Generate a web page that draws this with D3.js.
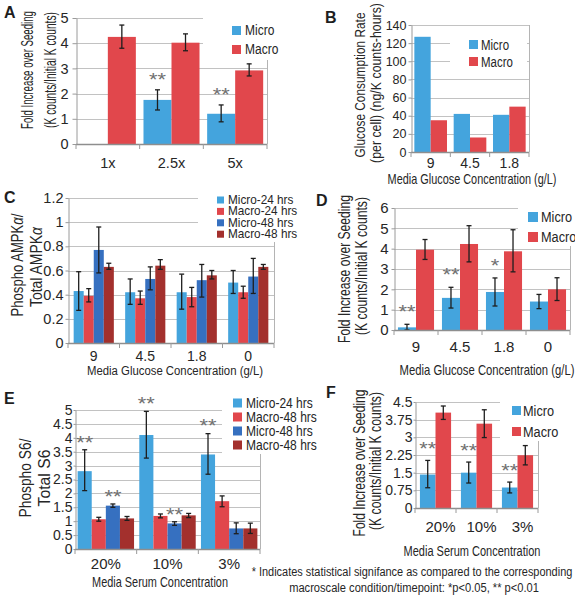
<!DOCTYPE html>
<html><head><meta charset="utf-8">
<script src="https://cdn.jsdelivr.net/npm/d3@7"></script>
<style>
body{margin:0;background:#fff;}
svg text{font-family:"Liberation Sans",Arial,sans-serif;}
</style>
</head><body>
<svg id="fig" width="575" height="600"></svg>
<script>
// ---------- Panel A ----------
const catsA = ["1x", "2.5x", "5x"];
const microA = [null, 1.75, 1.2];
const microA_lo = [null, 1.35, 0.88];
const microA_hi = [null, 2.15, 1.55];
const sigA = ["", "**", "**"];
const macroA = [4.25, 4.02, 2.92];
const macroA_lo = [3.8, 3.7, 2.7];
const macroA_hi = [4.72, 4.37, 3.18];
const ticksA = [0, 1, 2, 3, 4, 5];

// ---------- Panel B ----------
const catsB = ["9", "4.5", "1.8"];
const microB = [127, 42, 41];
const macroB = [35, 16, 50];
const ticksB = [0, 20, 40, 60, 80, 100, 120, 140];

// ---------- Panel C ----------
const catsC = ["9", "4.5", "1.8", "0"];
const micro24C = [0.43, 0.42, 0.42, 0.50];
const micro24C_lo = [0.27, 0.32, 0.28, 0.41];
const micro24C_hi = [0.59, 0.53, 0.57, 0.60];
const macro24C = [0.39, 0.37, 0.38, 0.42];
const macro24C_lo = [0.34, 0.32, 0.30, 0.37];
const macro24C_hi = [0.45, 0.43, 0.46, 0.47];
const micro48C = [0.77, 0.53, 0.52, 0.55];
const micro48C_lo = [0.58, 0.44, 0.38, 0.41];
const micro48C_hi = [0.96, 0.63, 0.65, 0.70];
const macro48C = [0.63, 0.64, 0.56, 0.63];
const macro48C_lo = [0.61, 0.61, 0.53, 0.61];
const macro48C_hi = [0.66, 0.69, 0.60, 0.65];
const ticksC = [0, 0.2, 0.4, 0.6, 0.8, 1, 1.2];

// ---------- Panel D ----------
const catsD = ["9", "4.5", "1.8", "0"];
const microD = [0.13, 1.58, 1.87, 1.4];
const microD_lo = [0.0, 1.08, 1.18, 1.05];
const microD_hi = [0.28, 2.1, 2.56, 1.75];
const sigD = ["**", "**", "*", ""];
const macroD = [3.95, 4.23, 3.87, 2.0];
const macroD_lo = [3.47, 3.35, 2.86, 1.45];
const macroD_hi = [4.45, 5.13, 4.93, 2.57];
const ticksD = [0, 1, 2, 3, 4, 5, 6];

// ---------- Panel E ----------
const catsE = ["20%", "10%", "3%"];
const micro24E = [2.8, 4.1, 3.4];
const micro24E_lo = [2.1, 3.27, 2.69];
const micro24E_hi = [3.57, 4.95, 4.15];
const sigE24 = ["**", "**", "**"];
const macro48aE = [1.07, 1.19, 1.72];
const macro48aE_lo = [1.0, 1.12, 1.52];
const macro48aE_hi = [1.14, 1.26, 1.91];
const micro48E = [1.56, 0.92, 0.74];
const micro48E_lo = [1.5, 0.85, 0.55];
const micro48E_hi = [1.62, 0.98, 0.94];
const sigE48 = ["**", "**", ""];
const macro48E = [1.1, 1.21, 0.74];
const macro48E_lo = [1.03, 1.13, 0.56];
const macro48E_hi = [1.17, 1.28, 0.93];
const ticksE = [0, 0.5, 1, 1.5, 2, 2.5, 3, 3.5, 4, 4.5, 5];

// ---------- Panel F ----------
const catsF = ["20%", "10%", "3%"];
const microF = [1.42, 1.5, 0.87];
const microF_lo = [0.86, 1.06, 0.64];
const microF_hi = [2.02, 1.95, 1.1];
const sigF = ["**", "**", "**"];
const macroF = [4.05, 3.58, 2.24];
const macroF_lo = [3.76, 2.99, 1.83];
const macroF_hi = [4.33, 4.17, 2.65];
const ticksF = [0, 0.75, 1.5, 2.25, 3, 3.75, 4.5];

// ---------- drawing ----------
const COL = {micro: "#44a4dd", macro: "#e1474c", micro48: "#3670c0", macro48: "#a3302d"};
const TXT = "#262626";
const svg = d3.select("#fig");
svg.append("rect").attr("width", 575).attr("height", 600).attr("fill", "#fff");

// text placed in its own group; horizontal compression done with a scale transform
function addText(g, x, y, s, o = {}) {
  const gg = g.append("g");
  const t = gg.append("text").attr("x", 0).attr("y", 0)
    .attr("font-size", o.size || 14).attr("text-anchor", o.anchor || "start")
    .attr("fill", o.fill || TXT);
  if (Array.isArray(s)) {
    s.forEach(p => { const ts = t.append("tspan").text(p.t); if (p.it) ts.attr("font-style", "italic"); });
  } else t.text(s);
  if (o.weight) t.attr("font-weight", o.weight);
  let k = 1;
  const Ln = t.node().getComputedTextLength();
  if (o.len) k = o.len / Ln;
  else if (o.k) k = o.k;
  gg.attr("transform", `translate(${x},${y})${o.rot ? " rotate(" + o.rot + ")" : ""} scale(${k},1)`);
  return t;
}
function vText(g, x, y, s, o = {}) {
  return addText(g, x, y, s, Object.assign({anchor: "middle", rot: -90}, o));
}

function panel(p) {
  const g = svg.append("g");
  const y = d3.scaleLinear().domain([0, p.max]).range([p.y1, p.y0]);
  const x = d3.scaleBand().domain(p.cats).range([p.x0, p.x1])
    .paddingInner(p.pad).paddingOuter(p.pad / 2);
  const xs = d3.scaleBand().domain(d3.range(p.series.length)).range([0, x.bandwidth()]);

  // gridlines
  g.append("g").selectAll("line").data(p.ticks.filter(t => t > 0)).join("line")
    .attr("x1", p.x0).attr("x2", p.x1)
    .attr("y1", d => Math.round(y(d)) + 0.5).attr("y2", d => Math.round(y(d)) + 0.5)
    .attr("stroke", "#c2c2c2").attr("stroke-width", 1);
  // right border
  g.append("line").attr("x1", p.x1 + 0.5).attr("x2", p.x1 + 0.5).attr("y1", y(p.max)).attr("y2", p.y1)
    .attr("stroke", "#b4b4b4");
  // legend box (covers the grid)
  const L = p.leg;
  g.append("rect").attr("x", L.bx).attr("y", L.by).attr("width", L.bw).attr("height", L.bh).attr("fill", "#fff");

  // bars
  p.series.forEach((s, si) => {
    const data = p.cats.map((c, i) => ({
      c, v: s.values[i],
      lo: s.lo ? s.lo[i] : null, hi: s.hi ? s.hi[i] : null,
      sig: s.sig ? s.sig[i] : ""
    })).filter(d => d.v != null);
    const gs = g.append("g");
    gs.selectAll("rect").data(data).join("rect")
      .attr("x", d => x(d.c) + xs(si)).attr("width", xs.bandwidth())
      .attr("y", d => y(d.v)).attr("height", d => y(0) - y(d.v))
      .attr("fill", s.color);
    const eb = data.filter(d => d.lo != null);
    const cx = d => x(d.c) + xs(si) + xs.bandwidth() / 2;
    gs.selectAll("line.v").data(eb).join("line").attr("class", "v")
      .attr("x1", cx).attr("x2", cx).attr("y1", d => y(d.lo)).attr("y2", d => y(d.hi))
      .attr("stroke", "#1e1e1e").attr("stroke-width", 1.3);
    ["lo", "hi"].forEach(k => {
      gs.selectAll("line.c" + k).data(eb).join("line").attr("class", "c" + k)
        .attr("x1", d => cx(d) - 2.5).attr("x2", d => cx(d) + 2.5)
        .attr("y1", d => y(d[k])).attr("y2", d => y(d[k]))
        .attr("stroke", "#1e1e1e").attr("stroke-width", 1.3);
    });
    data.filter(d => d.sig).forEach(d => {
      const ctr = y(d.hi) - p.starOff;
      addText(gs, cx(d), ctr + 0.57 * 19, d.sig,
        {size: 19, anchor: "middle", fill: "#707070", len: d.sig.length * 8.5});
    });
  });

  // y axis
  const ya = g.append("g").attr("transform", `translate(${p.x0 + 0.5},0)`)
    .call(d3.axisLeft(y).tickValues(p.ticks).tickSize(p.tickSize).tickSizeOuter(0)
      .tickPadding(p.tickPad).tickFormat(d => String(d)));
  ya.select(".domain").attr("stroke", "#9a9a9a");
  ya.selectAll(".tick line").attr("stroke", "#9a9a9a");
  ya.selectAll(".tick text").attr("font-size", p.ySize).attr("fill", TXT);

  // x axis
  g.append("line").attr("x1", p.x0).attr("x2", p.x1).attr("y1", p.y1 + 0.5).attr("y2", p.y1 + 0.5)
    .attr("stroke", "#8e8e8e").attr("stroke-width", 1.3);
  g.append("g").selectAll("line").data(d3.range(p.cats.length + 1)).join("line")
    .attr("x1", i => p.x0 + i * x.step()).attr("x2", i => p.x0 + i * x.step())
    .attr("y1", p.y1).attr("y2", p.y1 + 5).attr("stroke", "#9a9a9a");
  p.cats.forEach(c => addText(g, x(c) + x.bandwidth() / 2 + (p.xLabDx || 0), p.xLabY, c,
    {size: p.xSize, anchor: "middle"}));

  // legend
  p.series.forEach((s, i) => {
    g.append("rect").attr("x", L.sx).attr("y", L.sy + i * L.dy).attr("width", L.s).attr("height", L.s)
      .attr("fill", s.color);
    addText(g, L.tx, L.sy + i * L.dy + L.tdy, s.name, {size: L.size, k: L.k});
  });

  // titles
  addText(g, p.letter[1], p.letter[2], p.letter[0], {size: 16, weight: "bold", fill: "#1e1e1e"});
  p.ytitle.forEach(t => vText(g, t.x, t.y, t.s, {size: t.size || 16, len: t.len}));
  if (p.xtitle) addText(g, p.xtitle.x, p.xtitle.y, p.xtitle.s, {size: p.xtitle.size || 14, anchor: "middle", len: p.xtitle.len});
}

// Panel A
panel({
  x0: 76, x1: 267, y0: 18, y1: 144, max: 5, ticks: ticksA, cats: catsA, pad: 0.12,
  series: [
    {name: "Micro", color: COL.micro, values: microA, lo: microA_lo, hi: microA_hi, sig: sigA},
    {name: "Macro", color: COL.macro, values: macroA, lo: macroA_lo, hi: macroA_hi}
  ],
  starOff: 15, tickSize: 4, tickPad: 4, ySize: 14.5, xSize: 14.5, xLabY: 168,
  leg: {bx: 203, by: 12, bw: 80, bh: 48, sx: 232, sy: 26, dy: 19, s: 9, tx: 245, tdy: 8.5, size: 15, k: 0.8},
  letter: ["A", 4, 18],
  ytitle: [
    {x: 33, y: 70, s: "Fold Increase over Seeding", len: 118},
    {x: 56, y: 70, s: "(K counts/Initial K counts)", len: 116}
  ]
});

// Panel B
panel({
  x0: 411, x1: 529, y0: 25, y1: 152, max: 140, ticks: ticksB, cats: catsB, pad: 0.17,
  series: [
    {name: "Micro", color: COL.micro, values: microB},
    {name: "Macro", color: COL.macro, values: macroB}
  ],
  starOff: 0, tickSize: 3, tickPad: 2, ySize: 12.5, xSize: 14, xLabY: 168,
  leg: {bx: 450, by: 33, bw: 77, bh: 40, sx: 469, sy: 40, dy: 17, s: 9, tx: 481, tdy: 9.5, size: 14, k: 0.82},
  letter: ["B", 325, 23],
  ytitle: [
    {x: 365, y: 85, s: "Glucose Consumption Rate", len: 145, size: 15},
    {x: 381, y: 83, s: "(per cell)  (ng/K counts-hours)", len: 160, size: 15}
  ],
  xtitle: {x: 472, y: 184, s: "Media Glucose Concentration (g/L)", len: 169}
});

// Panel C
panel({
  x0: 68, x1: 274, y0: 198, y1: 343, max: 1.2, ticks: ticksC, cats: catsC, pad: 0.22,
  series: [
    {name: "Micro-24 hrs", color: COL.micro, values: micro24C, lo: micro24C_lo, hi: micro24C_hi},
    {name: "Macro-24 hrs", color: COL.macro, values: macro24C, lo: macro24C_lo, hi: macro24C_hi},
    {name: "Micro-48 hrs", color: COL.micro48, values: micro48C, lo: micro48C_lo, hi: micro48C_hi},
    {name: "Macro-48 hrs", color: COL.macro48, values: macro48C, lo: macro48C_lo, hi: macro48C_hi}
  ],
  starOff: 0, tickSize: 3, tickPad: 2, ySize: 14.5, xSize: 14, xLabY: 361,
  leg: {bx: 198, by: 190, bw: 100, bh: 52, sx: 217, sy: 196.5, dy: 11.4, s: 7, tx: 228, tdy: 7.5, size: 12, k: 0.98},
  letter: ["C", 4, 203],
  ytitle: [
    {x: 23, y: 265, s: [{t: "Phospho AMPK"}, {t: "α", it: true}, {t: "/"}], len: 103},
    {x: 42, y: 267, s: [{t: "Total AMPK"}, {t: "α", it: true}], len: 80}
  ],
  xtitle: {x: 175, y: 375, s: "Media Glucose Concentration (g/L)", len: 176, size: 13.5}
});

// Panel D
panel({
  x0: 394, x1: 570, y0: 208, y1: 330, max: 6, ticks: ticksD, cats: catsD, pad: 0.18,
  series: [
    {name: "Micro", color: COL.micro, values: microD, lo: microD_lo, hi: microD_hi, sig: sigD},
    {name: "Macro", color: COL.macro, values: macroD, lo: macroD_lo, hi: macroD_hi}
  ],
  starOff: 17, tickSize: 3, tickPad: 3, ySize: 15, xSize: 15, xLabY: 352,
  leg: {bx: 518, by: 203, bw: 57, bh: 43, sx: 528, sy: 212, dy: 20, s: 10, tx: 541, tdy: 10, size: 15, k: 0.85},
  letter: ["D", 316, 206],
  ytitle: [
    {x: 350, y: 269, s: "Fold Increase over Seeding", len: 148},
    {x: 367, y: 266, s: "(K counts/Initial K counts)", len: 138}
  ],
  xtitle: {x: 487, y: 375, s: "Media Glucose Concentration (g/L)", len: 175}
});

// Panel E
panel({
  x0: 75, x1: 260, y0: 410, y1: 549, max: 5, ticks: ticksE, cats: catsE, pad: 0.085,
  series: [
    {name: "Micro-24 hrs", color: COL.micro, values: micro24E, lo: micro24E_lo, hi: micro24E_hi, sig: sigE24},
    {name: "Macro-48 hrs", color: COL.macro, values: macro48aE, lo: macro48aE_lo, hi: macro48aE_hi},
    {name: "Micro-48 hrs", color: COL.micro48, values: micro48E, lo: micro48E_lo, hi: micro48E_hi, sig: sigE48},
    {name: "Macro-48 hrs", color: COL.macro48, values: macro48E, lo: macro48E_lo, hi: macro48E_hi}
  ],
  starOff: 12, tickSize: 2, tickPad: 1, ySize: 14, xSize: 15, xLabY: 569,
  leg: {bx: 222, by: 394, bw: 128, bh: 60, sx: 233, sy: 398.5, dy: 14, s: 9, tx: 246, tdy: 9.5, size: 14.5, k: 0.83},
  letter: ["E", 4, 404],
  ytitle: [
    {x: 31, y: 478, s: "Phospho S6/", len: 79},
    {x: 50, y: 478, s: "Total S6", len: 57}
  ],
  xtitle: {x: 160, y: 587, s: "Media Serum Concentration", len: 136}
});

// Panel F
panel({
  x0: 415, x1: 538, y0: 402, y1: 508, max: 4.5, ticks: ticksF, cats: catsF, pad: 0.24,
  series: [
    {name: "Micro", color: COL.micro, values: microF, lo: microF_lo, hi: microF_hi, sig: sigF},
    {name: "Macro", color: COL.macro, values: macroF, lo: macroF_lo, hi: macroF_hi}
  ],
  starOff: 16, tickSize: 2, tickPad: 1, ySize: 14, xSize: 15, xLabY: 532, xLabDx: 5,
  leg: {bx: 500, by: 397, bw: 75, bh: 44, sx: 512, sy: 406, dy: 21, s: 9, tx: 523, tdy: 9.5, size: 15, k: 0.85},
  letter: ["F", 326, 398],
  ytitle: [
    {x: 365, y: 463, s: "Fold Increase over Seeding", len: 147},
    {x: 381, y: 461, s: "(K counts/Initial K counts)", len: 138}
  ],
  xtitle: {x: 472, y: 556, s: "Media Serum Concentration", len: 137}
});

// footnote
const foot = svg.append("g");
addText(foot, 412, 576, "* Indicates statistical signifance as compared to the corresponding", {size: 13.5, anchor: "middle", len: 321});
addText(foot, 414, 592, "macroscale condition/timepoint: *p<0.05, ** p<0.01", {size: 13.5, anchor: "middle", len: 250});
</script>
</body></html>
